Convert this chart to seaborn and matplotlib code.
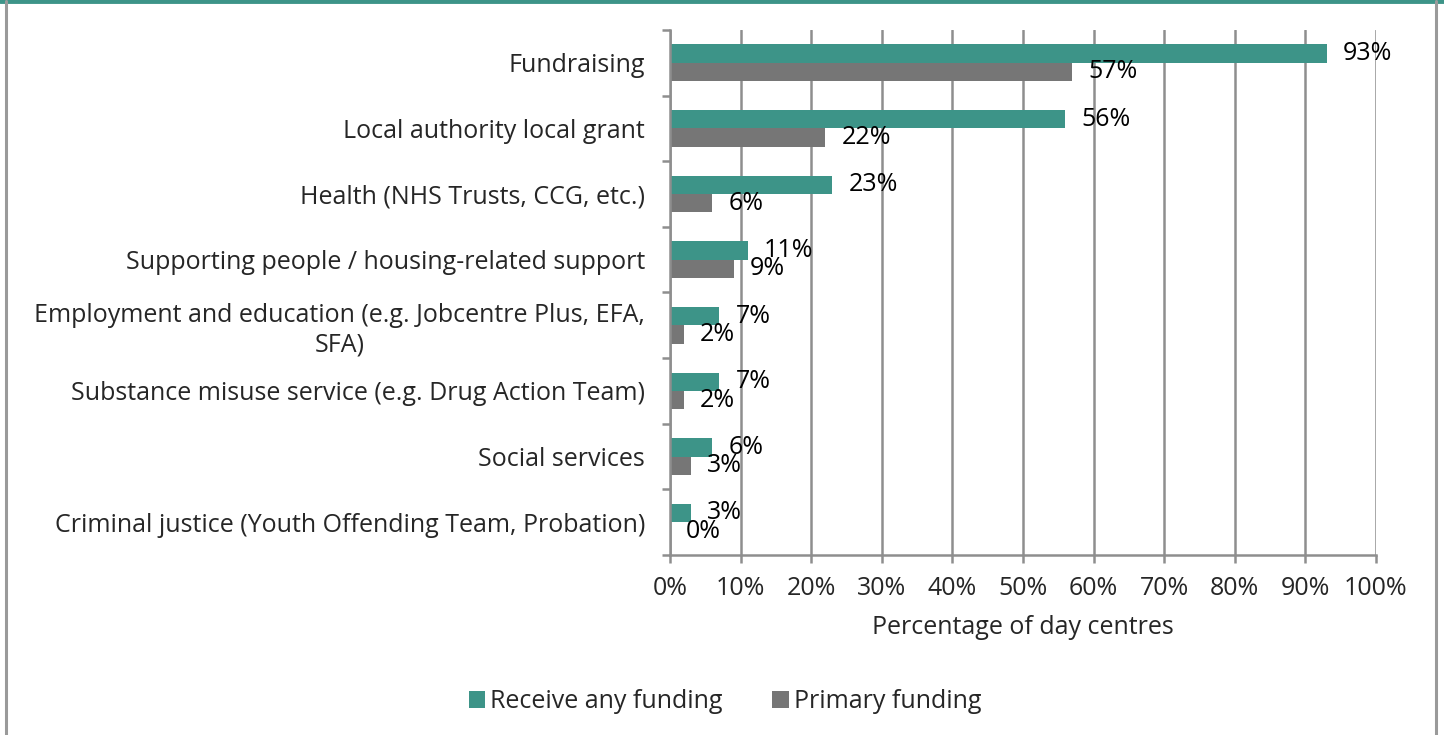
import matplotlib
matplotlib.use("Agg")
import matplotlib.pyplot as plt
from matplotlib.lines import Line2D
from matplotlib.ticker import FixedLocator, PercentFormatter
import pandas as pd
import seaborn as sns

categories = [
    "Fundraising",
    "Local authority local grant",
    "Health (NHS Trusts, CCG, etc.)",
    "Supporting people / housing-related support",
    "Employment and education (e.g. Jobcentre Plus, EFA,\nSFA)",
    "Substance misuse service (e.g. Drug Action Team)",
    "Social services",
    "Criminal justice (Youth Offending Team, Probation)",
]
series_names = ["Receive any funding", "Primary funding"]
receive_any = [93, 56, 23, 11, 7, 7, 6, 3]
primary = [57, 22, 6, 9, 2, 2, 3, 0]
x_ticks = [0, 10, 20, 30, 40, 50, 60, 70, 80, 90, 100]

TEAL = "#3d9488"
GREY = "#767676"
LINE = "#8e8e8e"
FS = 18

sns.set_theme(style="white")
plt.rcParams["font.family"] = ["Open Sans", "DejaVu Sans"]

df = pd.DataFrame({
    "source": categories * 2,
    "series": [series_names[0]] * len(categories) + [series_names[1]] * len(categories),
    "value": receive_any + primary,
})

fig = plt.figure(figsize=(14.44, 7.35), dpi=100)
ax = fig.add_axes([0.4640, 0.2449, 0.4889, 0.7143])

sns.barplot(
    data=df, x="value", y="source", hue="series", order=categories,
    hue_order=series_names, palette=[TEAL, GREY], orient="y",
    width=0.56, saturation=1, errorbar=None, ax=ax, edgecolor="none",
)

for container in ax.containers:
    ax.bar_label(container, fmt="%g%%", padding=11.5, fontsize=FS, color="black")

ax.set_xlim(0, 100)
ax.set_ylim(len(categories) - 0.5, -0.5)
ax.xaxis.set_major_locator(FixedLocator(x_ticks))
ax.xaxis.set_major_formatter(PercentFormatter(decimals=0))
ax.grid(axis="x", color=LINE, linewidth=1.8)
ax.set_axisbelow(True)

ax.yaxis.set_minor_locator(FixedLocator([i - 0.5 for i in range(len(categories) + 1)]))
ax.tick_params(axis="y", which="major", length=0, pad=18, labelsize=FS)
ax.tick_params(axis="y", which="minor", left=True, length=6, width=1.8, color=LINE)
ax.tick_params(axis="x", which="major", bottom=True, length=6, width=1.8,
               color=LINE, pad=9, labelsize=FS)
for lbl in ax.get_yticklabels():
    lbl.set_multialignment("center")

for side in ["top", "right"]:
    ax.spines[side].set_visible(False)
for side in ["left", "bottom"]:
    ax.spines[side].set_color(LINE)
    ax.spines[side].set_linewidth(1.8)

ax.set_xlabel("Percentage of day centres", fontsize=FS, labelpad=10)
ax.set_ylabel("")

handles, labels = ax.get_legend_handles_labels()
ax.get_legend().remove()
fig.legend(handles, labels, loc="center", bbox_to_anchor=(0.502, 0.045), ncol=2,
           frameon=False, fontsize=FS, handlelength=0.65, handleheight=0.65,
           handletextpad=0.2, columnspacing=2.0)

# Panel frame: teal rule on top, grey sides
fig.add_artist(Line2D([0, 1], [0.998, 0.998], transform=fig.transFigure,
                      color=TEAL, linewidth=3.5))
fig.add_artist(Line2D([0.0045, 0.0045], [0, 0.998], transform=fig.transFigure,
                      color="#9a9a9a", linewidth=2.2))
fig.add_artist(Line2D([0.9945, 0.9945], [0, 0.998], transform=fig.transFigure,
                      color="#9a9a9a", linewidth=2.2))

fig.savefig("out.png", dpi=100, facecolor="white")
